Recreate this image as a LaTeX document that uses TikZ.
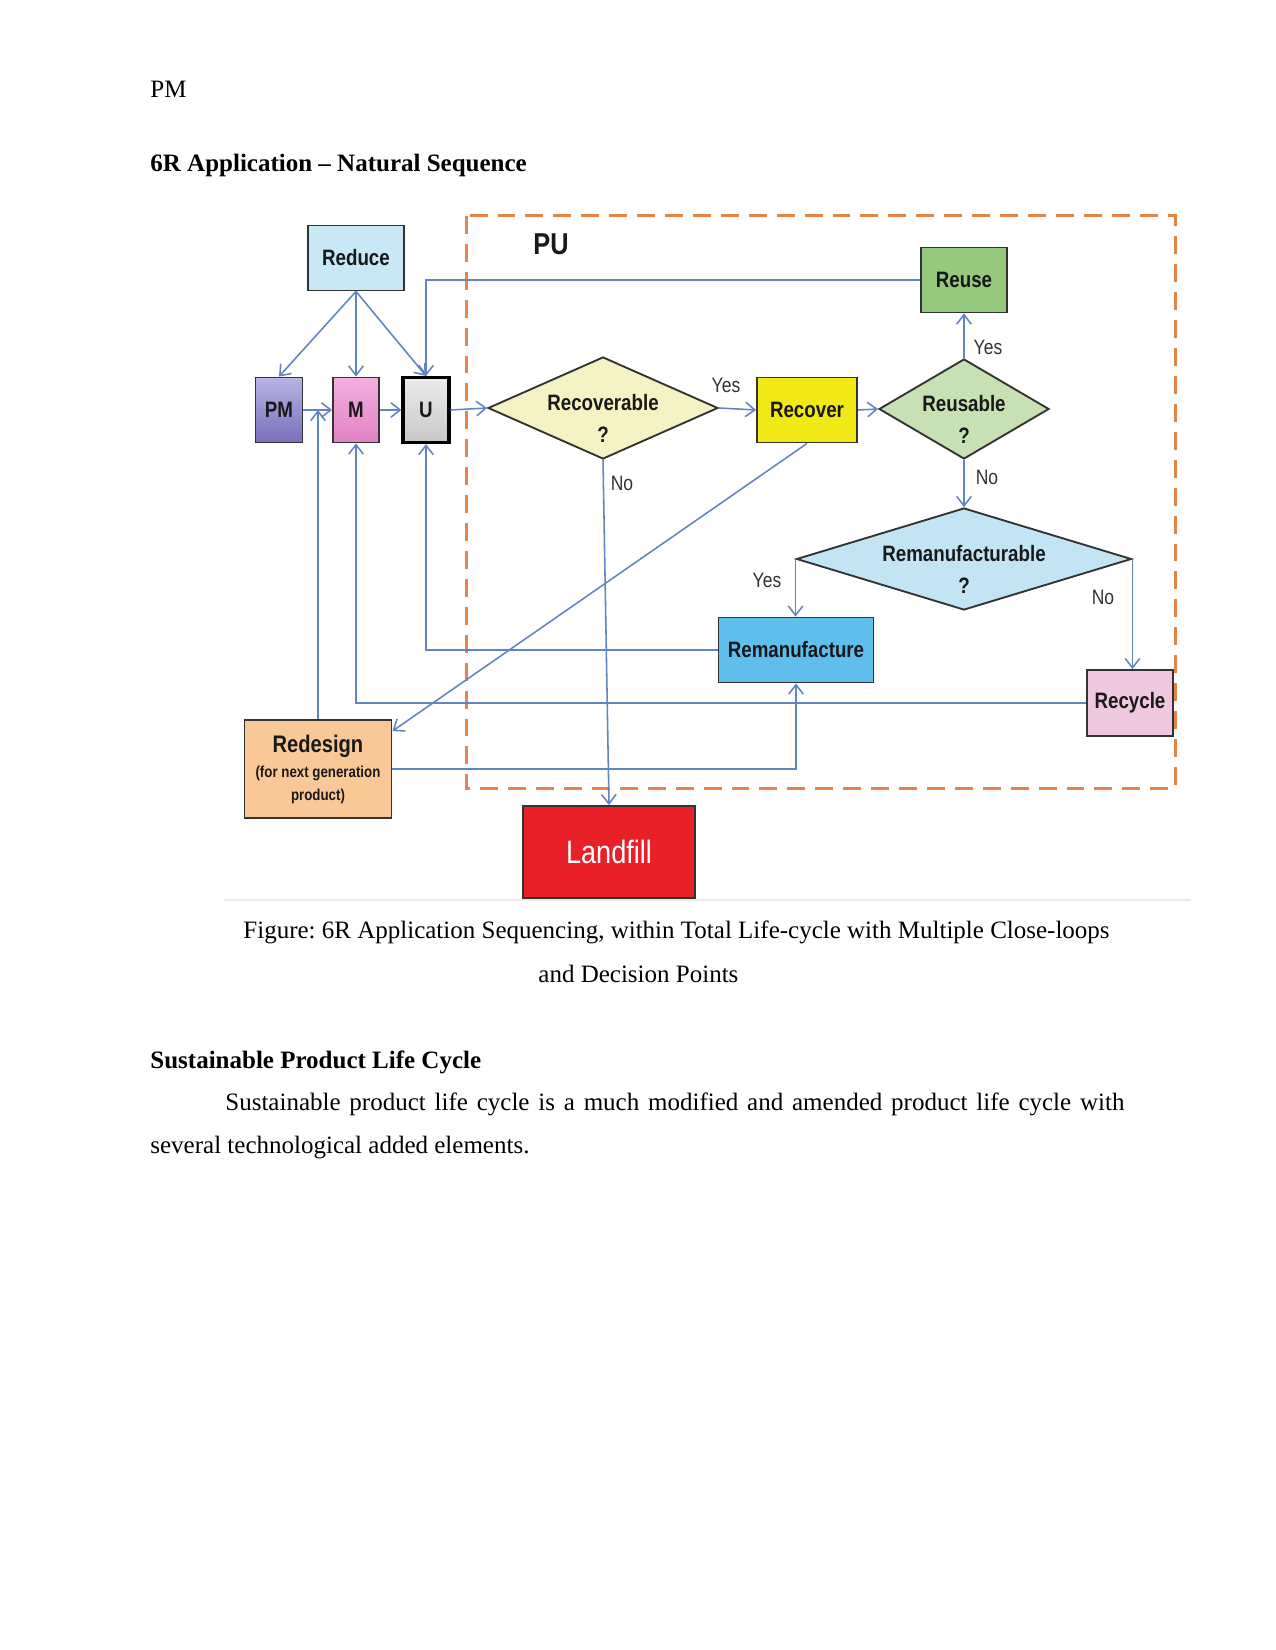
\documentclass[tikz,border=0pt]{standalone}
\usepackage{fontspec}
\setmainfont{Liberation Serif}
\newfontfamily\dfont[FakeStretch=0.84]{Liberation Sans}
\usetikzlibrary{shapes.geometric,arrows.meta,calc}
\definecolor{arrc}{RGB}{98,132,196}
\definecolor{dashc}{RGB}{230,132,72}
\newcommand\upx{*0.48pt}
\newcommand\dtext[1]{\raisebox{-8.5pt}[0pt][0pt]{\begin{tabular}{@{}c@{}}#1\\?\end{tabular}}}
\frenchspacing
\begin{document}
\begin{tikzpicture}[x=0.48pt,y=-0.48pt,
  box/.style={draw=black!80, line width=0.9pt, inner sep=0pt, text=black!90,
    font=\dfont\bfseries\fontsize{10.7}{13}\selectfont},
  dia/.style={diamond, draw=black!80, line width=0.9pt, inner sep=0pt, text=black!90,
    font=\dfont\bfseries\fontsize{10.7}{15.4}\selectfont},
  arr/.style={draw=arrc, line width=0.75pt, -{Straight Barb[length=4.5pt,width=7pt]}},
  lab/.style={font=\dfont\fontsize{10}{12}\selectfont, text=black!80, inner sep=1pt},
  ptext/.style={font=\fontsize{12}{14.4}\selectfont, inner sep=0pt, anchor=base west},
  phead/.style={font=\bfseries\fontsize{12}{14.4}\selectfont, inner sep=0pt, anchor=base west}
]
\useasboundingbox[fill=white] (0,0) rectangle (1275,1650);

% page text
\node[ptext] (hdr) at (150,98) {PM};
\node[phead] (title) at (150,172) {6R Application -- Natural Sequence};

% dashed PU region
\draw[dashc, line width=1.44pt, dash pattern=on 8.6pt off 4.8pt] (466,216) rectangle (1175,788);
\node[font=\dfont\bfseries\fontsize{14.5}{16}\selectfont, text=black!90] (pu) at (551,244) {PU};

% nodes
\node[box, fill={rgb,255:red,200;green,232;blue,245}, minimum width=96\upx, minimum height=65\upx] (reduce) at (356,258) {Reduce};
\node[box, top color={rgb,255:red,185;green,180;blue,228}, bottom color={rgb,255:red,120;green,110;blue,188}, minimum width=47\upx, minimum height=65\upx] (pm) at (279,410) {PM};
\node[box, top color={rgb,255:red,242;green,175;blue,222}, bottom color={rgb,255:red,226;green,130;blue,196}, minimum width=46\upx, minimum height=65\upx] (m) at (356,410) {M};
\node[box, draw=black, line width=1.5pt, top color={rgb,255:red,235;green,235;blue,235}, bottom color={rgb,255:red,200;green,200;blue,200}, minimum width=46\upx, minimum height=65\upx] (u) at (426,410) {U};
\node[dia, fill={rgb,255:red,245;green,242;blue,196}, aspect=2.25, minimum width=230\upx, minimum height=102\upx] (recoverable) at (603,408) {\dtext{Recoverable}};
\node[box, fill={rgb,255:red,241;green,233;blue,22}, minimum width=100\upx, minimum height=65\upx] (recover) at (807,410) {Recover};
\node[dia, fill={rgb,255:red,200;green,225;blue,180}, aspect=1.7, minimum width=170\upx, minimum height=100\upx] (reusable) at (964,409) {\dtext{Reusable}};
\node[box, fill={rgb,255:red,150;green,200;blue,125}, minimum width=86\upx, minimum height=65\upx] (reuse) at (964,280) {Reuse};
\node[dia, fill={rgb,255:red,195;green,228;blue,243}, aspect=3.28, minimum width=335\upx, minimum height=102\upx] (reman) at (964,559) {\dtext{Remanufacturable}};
\node[box, fill={rgb,255:red,95;green,190;blue,235}, minimum width=155\upx, minimum height=65\upx] (remanf) at (796,650) {Remanufacture};
\node[box, fill={rgb,255:red,238;green,200;blue,222}, minimum width=86\upx, minimum height=66\upx] (recycle) at (1130,703) {Recycle};
\node[box, fill={rgb,255:red,248;green,200;blue,150}, minimum width=147\upx, minimum height=98\upx, align=center] (redesign) at (318,769)
  {{\fontsize{11.5}{13}\selectfont Redesign}\\[-1pt]{\fontsize{7.6}{9.5}\selectfont (for next generation}\\[-2pt]{\fontsize{7.6}{9.5}\selectfont product)}};
\node[box, fill={rgb,255:red,232;green,32;blue,40}, text=white, font=\dfont\fontsize{15.5}{17}\selectfont, minimum width=172\upx, minimum height=92\upx] (landfill) at (609,852) {Landfill};

% connectors
\draw[arr] (reduce.south) -- (pm.north);
\draw[arr] (reduce.south) -- (m.north);
\draw[arr] (reduce.south) -- (u.north);
\draw[arr] (reuse.west) -| (u.north);
\draw[arr] (pm.east) -- (m.west);
\draw[arr] (m.east) -- (u.west);
\draw[arr] (u.east) -- (recoverable.west);
\draw[arr] (recoverable.east) -- (recover.west);
\draw[arr] (recover.east) -- (reusable.west);
\draw[arr] (reusable.north) -- (reuse.south);
\draw[arr] (reusable.south) -- (reman.north);
\draw[arr] (reman.west) -- (reman.west |- remanf.north);
\draw[arr] (reman.east) -- (reman.east |- recycle.north);
\draw[arr] (recoverable.south) -- (landfill.north);
\draw[arr] (recover.south) -- ($(redesign.north east)+(0,12)$);
\draw[arr] (remanf.west) -| (u.south);
\draw[arr] (recycle.west) -| (m.south);
\draw[arr] (redesign.east) -| (remanf.south);
\draw[arr] (redesign.north) -- (redesign.north |- m.west);

% connector labels
\node[lab] (l-yes1) at (726,385) {Yes};
\node[lab] (l-yes2) at (988,347) {Yes};
\node[lab] (l-no1) at (987,477) {No};
\node[lab] (l-yes3) at (767,580) {Yes};
\node[lab] (l-no2) at (1103,597) {No};
\node[lab] (l-no3) at (622,483) {No};

% figure bottom edge
\draw[black!8, line width=0.8pt] (224,900) -- (1191,900);

% caption and body text
\node[ptext] (cap1) at (243,938) {Figure: 6R Application Sequencing, within Total Life-cycle with Multiple Close-loops};
\node[ptext] (cap2) at (538,982) {and Decision Points};
\node[phead] (sec) at (150,1068) {Sustainable Product Life Cycle};
\node[ptext] (para1) at (225,1110) {\makebox[431.5pt][s]{Sustainable product life cycle is a much modified and amended product life cycle with}};
\node[ptext] (para2) at (150,1153) {several technological added elements.};
\end{tikzpicture}
\end{document}
